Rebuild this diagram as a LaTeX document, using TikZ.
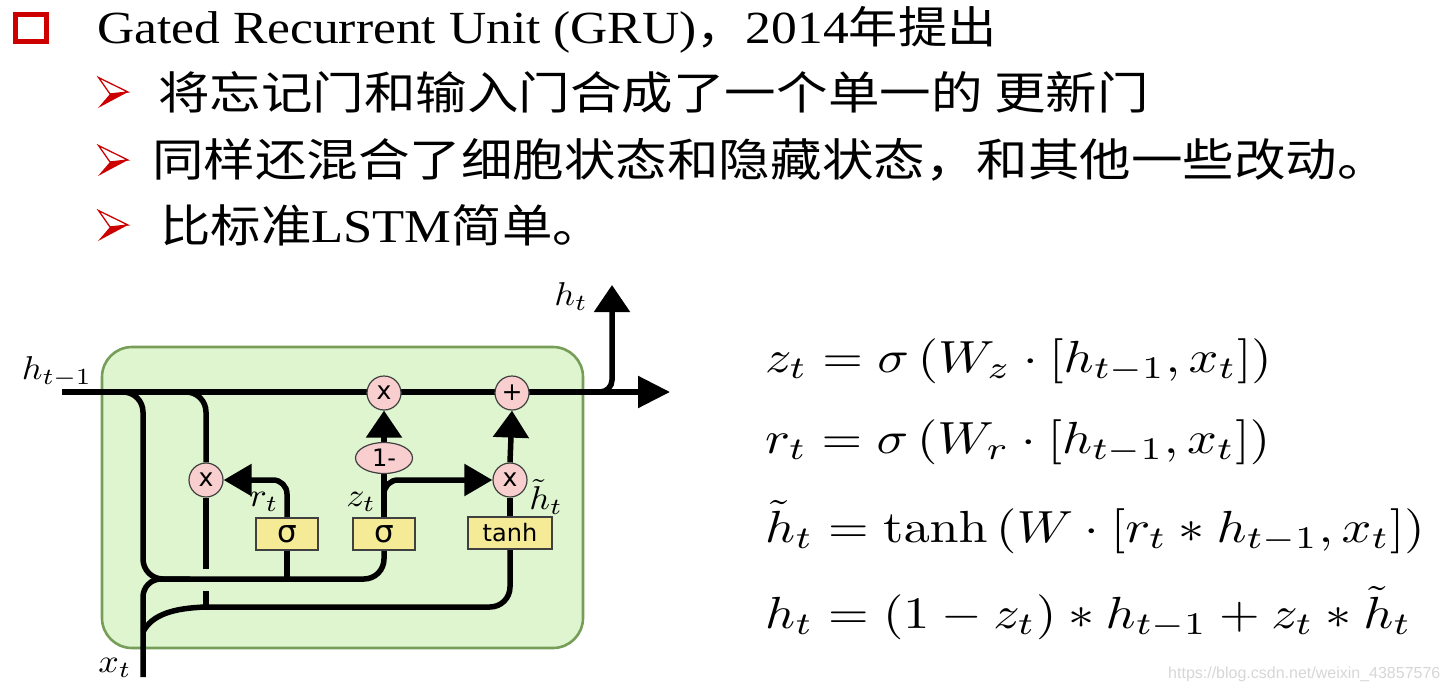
\documentclass[tikz,border=0pt]{standalone}
\usepackage{amsmath}
\usepackage[no-math]{fontspec}
\usepackage{graphicx}
\setmainfont{Liberation Serif}
\newfontfamily\cjk{Noto Sans CJK SC}
\newfontfamily\dvs{DejaVu Sans}
\newfontfamily\wmfont{Liberation Sans}
\usetikzlibrary{arrows.meta,shapes.geometric,calc}

\definecolor{cellfill}{RGB}{222,245,208}
\definecolor{celledge}{RGB}{118,158,88}
\definecolor{opfill}{RGB}{248,206,206}
\definecolor{gatefill}{RGB}{245,234,150}
\definecolor{bulletred}{RGB}{204,0,0}
\definecolor{wmgray}{RGB}{214,214,214}

\pgfdeclarelayer{cellbg}
\pgfdeclarelayer{wires}
\pgfsetlayers{cellbg,wires,main}

% slides are set slightly wide
\newcommand\wide[1]{\scalebox{1.12}[1]{#1}}
\newcommand\widecjk[1]{\scalebox{1.145}[1]{#1}}
% math is set at 10pt and enlarged
\newcommand\eqbox[1]{\scalebox{5.22}[4.5]{#1}}
\newcommand\lblbox[1]{\scalebox{3.6}[3.3]{#1}}

\tikzset{
  wire/.style={line width=5.5pt},
  arrmain/.style={-{Triangle[length=32pt,width=31pt]}},
  arrup/.style={-{Triangle[length=27pt,width=35pt]}},
  arrside/.style={-{Triangle[length=28pt,width=31pt]}},
  cellbox/.style={draw=celledge, fill=cellfill, line width=2.6pt, rounded corners=30pt, inner sep=0pt},
  op/.style={circle, draw=black!75, line width=1.2pt, fill=opfill, minimum size=34pt, inner sep=0pt,
             font=\dvs\fontsize{25}{26}\selectfont},
  gate/.style={rectangle, draw=black!75, line width=1.2pt, fill=gatefill, minimum height=32pt, inner sep=0pt,
               font=\dvs\fontsize{24}{26}\selectfont},
  lbl/.style={inner sep=0pt},
  eq/.style={anchor=base west, inner sep=0pt},
  line/.style={anchor=base west, inner sep=0pt},
  bullet/.pic={
    \fill[bulletred] (30,15) -- (12,17) -- (0,31) -- cycle;
    \draw[bulletred, line width=1.3pt, line join=miter] (0.6,0.6) -- (30,15) -- (12,17) -- cycle;
  }
}

\begin{document}
\begin{tikzpicture}[x=1pt,y=-1pt]
\useasboundingbox (0,0) rectangle (1448,693);

% ---------- heading and bullet points ----------
\draw[bulletred, line width=5pt] (15.8,14.2) rectangle (46.8,41.5);
\node[line] (title) at (97,44) {\wide{\fontsize{46}{56}\selectfont Gated Recurrent Unit (GRU){\cjk\fontsize{44}{54}\selectfont ，}2014{\cjk\fontsize{44}{54}\selectfont 年提出}}};

\pic at (98,77) {bullet};
\node[line] (p1) at (158,110) {\widecjk{\cjk\fontsize{45}{54}\selectfont 将忘记门和输入门合成了一个单一的 更新门}};
\pic at (98,145) {bullet};
\node[line] (p2) at (152,176) {\widecjk{\cjk\fontsize{45}{54}\selectfont 同样还混合了细胞状态和隐藏状态，和其他一些改动。}};
\pic at (98,210) {bullet};
\node[line] (p3) at (160,242) {\wide{{\cjk\fontsize{45}{54}\selectfont 比标准}\fontsize{47}{56}\selectfont LSTM{\cjk\fontsize{45}{54}\selectfont 简单。}}};

% ---------- GRU cell ----------
\begin{pgfonlayer}{cellbg}
\node[cellbox, minimum width=481pt, minimum height=301pt] (cell) at (342.5,497.5) {};
\end{pgfonlayer}

\node[op] (mulz) at (384,393) {x};
\node[op] (plus) at (512,393) {+};
\node[op, ellipse, minimum width=57pt, minimum height=31pt, font=\dvs\fontsize{24}{26}\selectfont] (omz) at (384,458) {1-};
\node[op] (mulr) at (206,480) {x};
\node[op] (mulh) at (510,480) {x};
\node[gate, minimum width=62pt, font=\dvs\fontsize{31}{32}\selectfont] (sigr) at (287,534) {σ};
\node[gate, minimum width=62pt, font=\dvs\fontsize{31}{32}\selectfont] (sigz) at (384,534) {σ};
\node[gate, minimum width=84pt] (tanhg) at (510,533) {tanh};

\coordinate (hin) at (62,392);
\coordinate (hout) at (670,392);
\coordinate (tap) at (588,392);
\coordinate (hup) at (612,285);
\coordinate (xin) at (143,677);
\coordinate (b1) at (118,392);
\coordinate (b2) at (180,392);
\coordinate (j1) at (143,579);
\coordinate (j2) at (190,579);
\coordinate (gapt) at (206,569);
\coordinate (gapb) at (206,591);
\coordinate (j3) at (206,607);
\coordinate (xsplit) at (143,632);

\begin{pgfonlayer}{wires}
\draw[wire, arrmain] (hin) -- (hout);
\draw[wire, arrup, rounded corners=12pt] (tap) -| (hup);
% h_{t-1} into the gates
\draw[wire, rounded corners=20pt] (b1) -| (j1) -| (sigz.south);
\draw[wire] (sigr.south) -- (sigr.south |- j1);
\draw[wire, rounded corners=20pt] (b2) -| (mulr.north);
\draw[wire] (mulr.south) -- (gapt);
\draw[wire] (gapb) -- (j3);
% x_t into the gates
\draw[wire, rounded corners=18pt] (xin) |- (j2);
\draw[wire] (xsplit) .. controls (152,614) and (175,608) .. (j3);
\draw[wire, rounded corners=20pt] (j3) -| (tanhg.south);
% gate outputs
\draw[wire] (tanhg.north) -- (mulh.south);
\draw[wire, arrup] (mulh.north) -- (plus.south);
\draw[wire] (sigz.north) -- (omz.south);
\draw[wire, arrup] (omz.north) -- (mulz.south);
\draw[wire, arrside, rounded corners=14pt] (sigz.north) |- (mulh.west);
\draw[wire, arrside, rounded corners=14pt] (sigr.north) |- (mulr.east);
\end{pgfonlayer}

\node[lbl] (lhm1) at (57,372) {\lblbox{$h_{t-1}$}};
\node[lbl] (lht) at (571,297) {\lblbox{$h_t$}};
\node[lbl] (lxt) at (115,668) {\lblbox{$x_t$}};
\node[lbl] (lrt) at (264,502) {\lblbox{$r_t$}};
\node[lbl] (lzt) at (361,502) {\lblbox{$z_t$}};
\node[lbl] (lhtt) at (546,497) {\lblbox{$\tilde{h}_t$}};

% ---------- equations ----------
\node[eq] (e1) at (765,372) {\eqbox{$z_t=\sigma\left(W_z\cdot[h_{t-1},x_t]\right)$}};
\node[eq] (e2) at (765,453) {\eqbox{$r_t=\sigma\left(W_r\cdot[h_{t-1},x_t]\right)$}};
\node[eq] (e3) at (765,542) {\eqbox{$\tilde{h}_t=\tanh\left(W\cdot[r_t*h_{t-1},x_t]\right)$}};
\node[eq] (e4) at (765,628) {\eqbox{$h_t=(1-z_t)*h_{t-1}+z_t*\tilde{h}_t$}};

\node[line, text=wmgray] (wm) at (1168,678) {\wmfont\fontsize{16}{18}\selectfont https://blog.csdn.net/weixin\_43857576};
\end{tikzpicture}
\end{document}
